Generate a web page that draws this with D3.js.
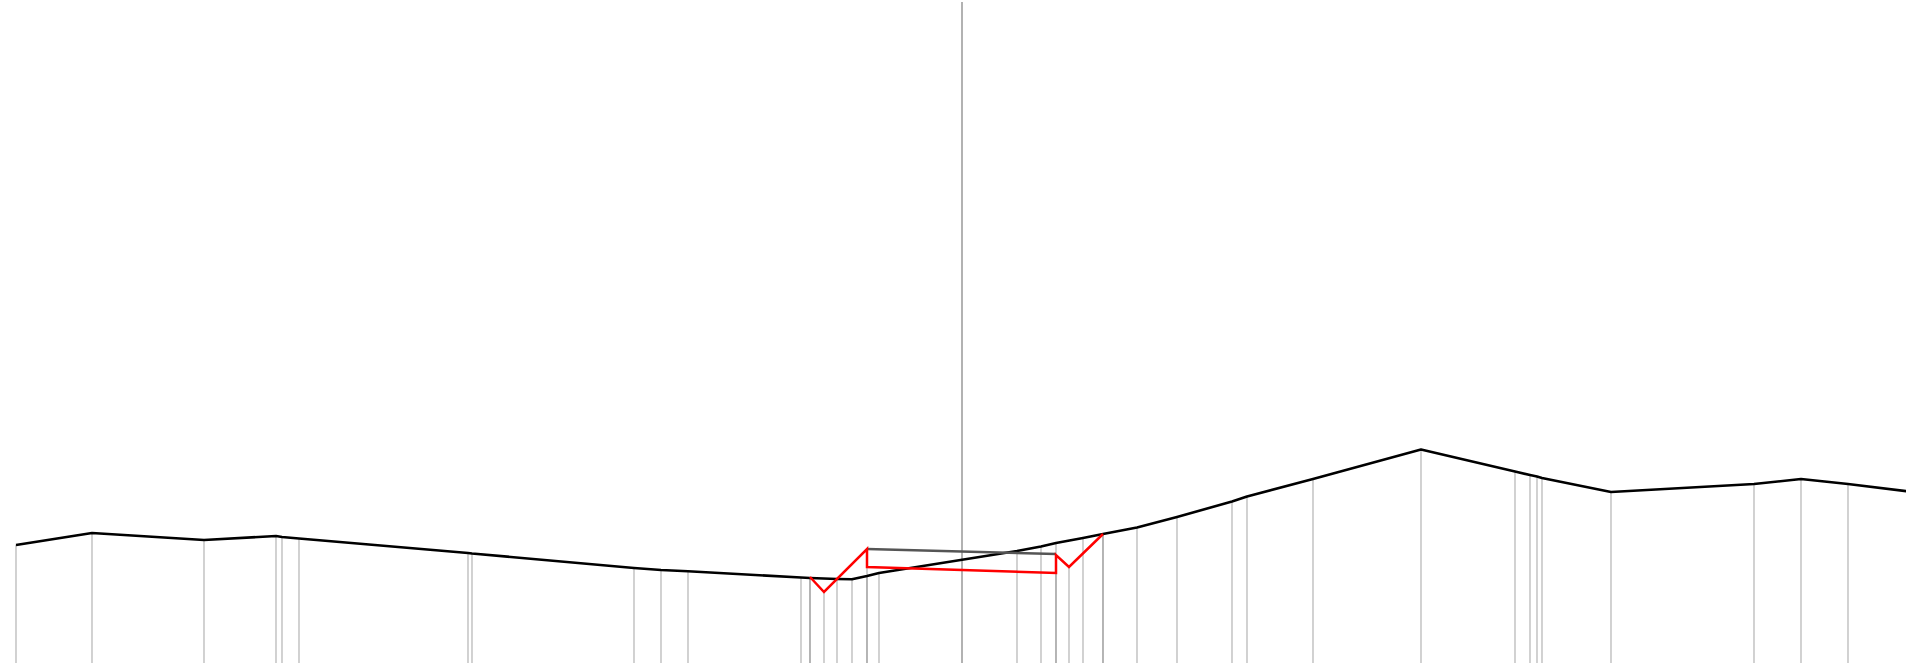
<!DOCTYPE html>
<html>
<head>
<meta charset="utf-8">
<script src="https://cdn.jsdelivr.net/npm/d3@7"></script>
<style>
  html, body { margin: 0; padding: 0; background: #fff; }
  svg { display: block; }
  .drop { stroke: #888; stroke-opacity: 0.55; stroke-width: 1.4; }
  .marker { stroke: #999; stroke-width: 1.5; }
  .price { fill: none; stroke: #000; stroke-width: 2.6; stroke-linejoin: round; }
  .pattern { fill: none; stroke: #ff0000; stroke-width: 2.5; stroke-linejoin: miter; }
  .base { fill: none; stroke: #555; stroke-width: 2.5; }
</style>
</head>
<body>
<svg id="chart"></svg>
<script>
(function () {
  const W = 1906, H = 663;

  // ---------- data ----------
  // price series: t = time position, v = level
  const priceT = [16, 92, 204, 276, 282, 299, 468, 472, 634, 661, 688, 801, 810, 837, 852, 867, 879,
                  1017, 1041, 1056, 1083, 1103, 1137, 1177, 1232, 1247, 1313, 1421, 1515, 1530, 1537,
                  1542, 1611, 1754, 1801, 1848, 1930];
  const priceV = [118, 130, 123, 127, 126, 124.5, 110, 109.5, 95, 93, 91.7, 85.5, 85, 84, 83.7, 87, 90,
                  112, 116.5, 120, 125, 129, 135.5, 146, 161.5, 166.5, 184, 213.5, 191.5, 188, 186.5,
                  185, 171, 179, 184, 179, 169];

  // drawn pattern (red zig-zag) and its base line (grey)
  const patternT = [810, 824, 867, 867, 1056, 1056, 1069, 1103];
  const patternV = [86, 71, 114, 96, 90, 108, 96, 129];
  const baseT = [867, 1056];
  const baseV = [114, 109];

  // current-time marker
  const markerT = 962;
  const markerV = 661;

  // ---------- scales ----------
  const x = d3.scaleLinear().domain([0, W]).range([0, W]);
  const y = d3.scaleLinear().domain([0, H]).range([H, 0]);

  const svg = d3.select("#chart").attr("width", W).attr("height", H);

  const price = priceT.map((t, i) => ({ t, v: priceV[i] }));
  const pattern = patternT.map((t, i) => ({ t, v: patternV[i] }));
  const base = baseT.map((t, i) => ({ t, v: baseV[i] }));

  // pattern drop lines: one per time, from the highest point
  const patternDrops = Array.from(
    d3.rollup(pattern, vs => d3.max(vs, d => d.v), d => d.t),
    ([t, v]) => ({ t, v })
  );

  // 1. drop lines
  const drops = svg.append("g");
  drops.selectAll("line.p")
    .data(price)
    .join("line")
    .attr("class", "drop p")
    .attr("x1", d => x(d.t)).attr("x2", d => x(d.t))
    .attr("y1", d => y(d.v)).attr("y2", H);

  drops.selectAll("line.q")
    .data(patternDrops)
    .join("line")
    .attr("class", "drop q")
    .attr("x1", d => x(d.t)).attr("x2", d => x(d.t))
    .attr("y1", d => y(d.v)).attr("y2", H);

  // 2. marker
  svg.append("line")
    .attr("class", "marker")
    .attr("x1", x(markerT)).attr("x2", x(markerT))
    .attr("y1", y(markerV)).attr("y2", H);

  const line = d3.line().x(d => x(d.t)).y(d => y(d.v));

  // 3. price line
  svg.append("path").datum(price).attr("class", "price").attr("d", line);

  // 4. pattern
  svg.append("path").datum(base).attr("class", "base").attr("d", line);
  svg.append("path").datum(pattern).attr("class", "pattern").attr("d", line);
})();
</script>
</body>
</html>
